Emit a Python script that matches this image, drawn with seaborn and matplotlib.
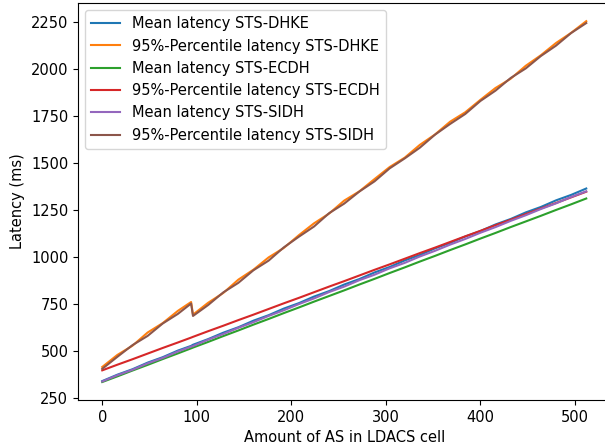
import numpy as np
import pandas as pd
import matplotlib
matplotlib.use("Agg")
import matplotlib.pyplot as plt
import seaborn as sns

n_as = [0, 16, 32, 48, 64, 80, 94, 96, 112, 128, 144, 160, 176, 192, 208, 224, 240,
        256, 272, 288, 304, 320, 336, 352, 368, 384, 400, 416, 432, 448, 464, 480, 496, 512]

mean_dhke = [340, 374, 403, 438, 467, 502, 527, 533, 563, 597, 626, 661, 690, 725, 754, 789, 818,
             853, 882, 917, 946, 981, 1010, 1045, 1074, 1108, 1137, 1172, 1201, 1236, 1265, 1300, 1329, 1363]
p95_dhke = [415, 479, 528, 598, 648, 713, 760, 693, 756, 808, 879, 932, 997, 1047, 1115, 1178, 1230,
            1299, 1348, 1413, 1477, 1527, 1595, 1650, 1718, 1768, 1834, 1897, 1946, 2015, 2071, 2136, 2190, 2252]
mean_ecdh = [335, 365, 396, 426, 457, 487, 514, 518, 548, 579, 609, 640, 670, 701, 731, 762, 792,
             822, 853, 883, 914, 944, 975, 1005, 1036, 1066, 1097, 1127, 1158, 1188, 1218, 1249, 1279, 1310]
p95_ecdh = [397, 427, 456, 486, 516, 545, 571, 575, 605, 634, 664, 693, 723, 753, 782, 812, 842,
            871, 901, 931, 960, 990, 1020, 1049, 1079, 1109, 1138, 1168, 1197, 1227, 1257, 1286, 1316, 1346]
mean_sidh = [338, 371, 400, 434, 463, 497, 523, 526, 560, 590, 623, 653, 686, 716, 749, 779, 813,
             842, 876, 905, 939, 968, 1002, 1032, 1065, 1095, 1128, 1158, 1191, 1221, 1254, 1284, 1318, 1348]
p95_sidh = [405, 469, 531, 580, 646, 697, 752, 686, 744, 811, 862, 929, 980, 1050, 1107, 1161, 1232,
            1283, 1347, 1401, 1470, 1523, 1580, 1649, 1706, 1759, 1828, 1883, 1950, 2001, 2067, 2122, 2189, 2242]

labels = ['Mean latency STS-DHKE', '95%-Percentile latency STS-DHKE',
          'Mean latency STS-ECDH', '95%-Percentile latency STS-ECDH',
          'Mean latency STS-SIDH', '95%-Percentile latency STS-SIDH']
series = [mean_dhke, p95_dhke, mean_ecdh, p95_ecdh, mean_sidh, p95_sidh]

# long-form table for seaborn
frames = []
for lab, vals in zip(labels, series):
    frames.append(pd.DataFrame({'n_as': n_as, 'latency': vals, 'series': lab}))
df = pd.concat(frames, ignore_index=True)

plt.rcParams['font.size'] = 10.5

fig = plt.figure(figsize=(6.05, 4.48), dpi=100)
# right spine sits just outside the picture, as in the reference
ax = fig.add_axes([0.129, 0.107, 0.88, 0.886])

sns.lineplot(data=df, x='n_as', y='latency', hue='series', hue_order=labels,
             palette='tab10', estimator=None, errorbar=None, linewidth=1.5, ax=ax)

ax.set_xlabel('Amount of AS in LDACS cell')
ax.set_ylabel('Latency (ms)')
ax.set_yticks([250, 500, 750, 1000, 1250, 1500, 1750, 2000, 2250])
ax.legend(loc='upper left')

fig.savefig('out.png', dpi=100)
